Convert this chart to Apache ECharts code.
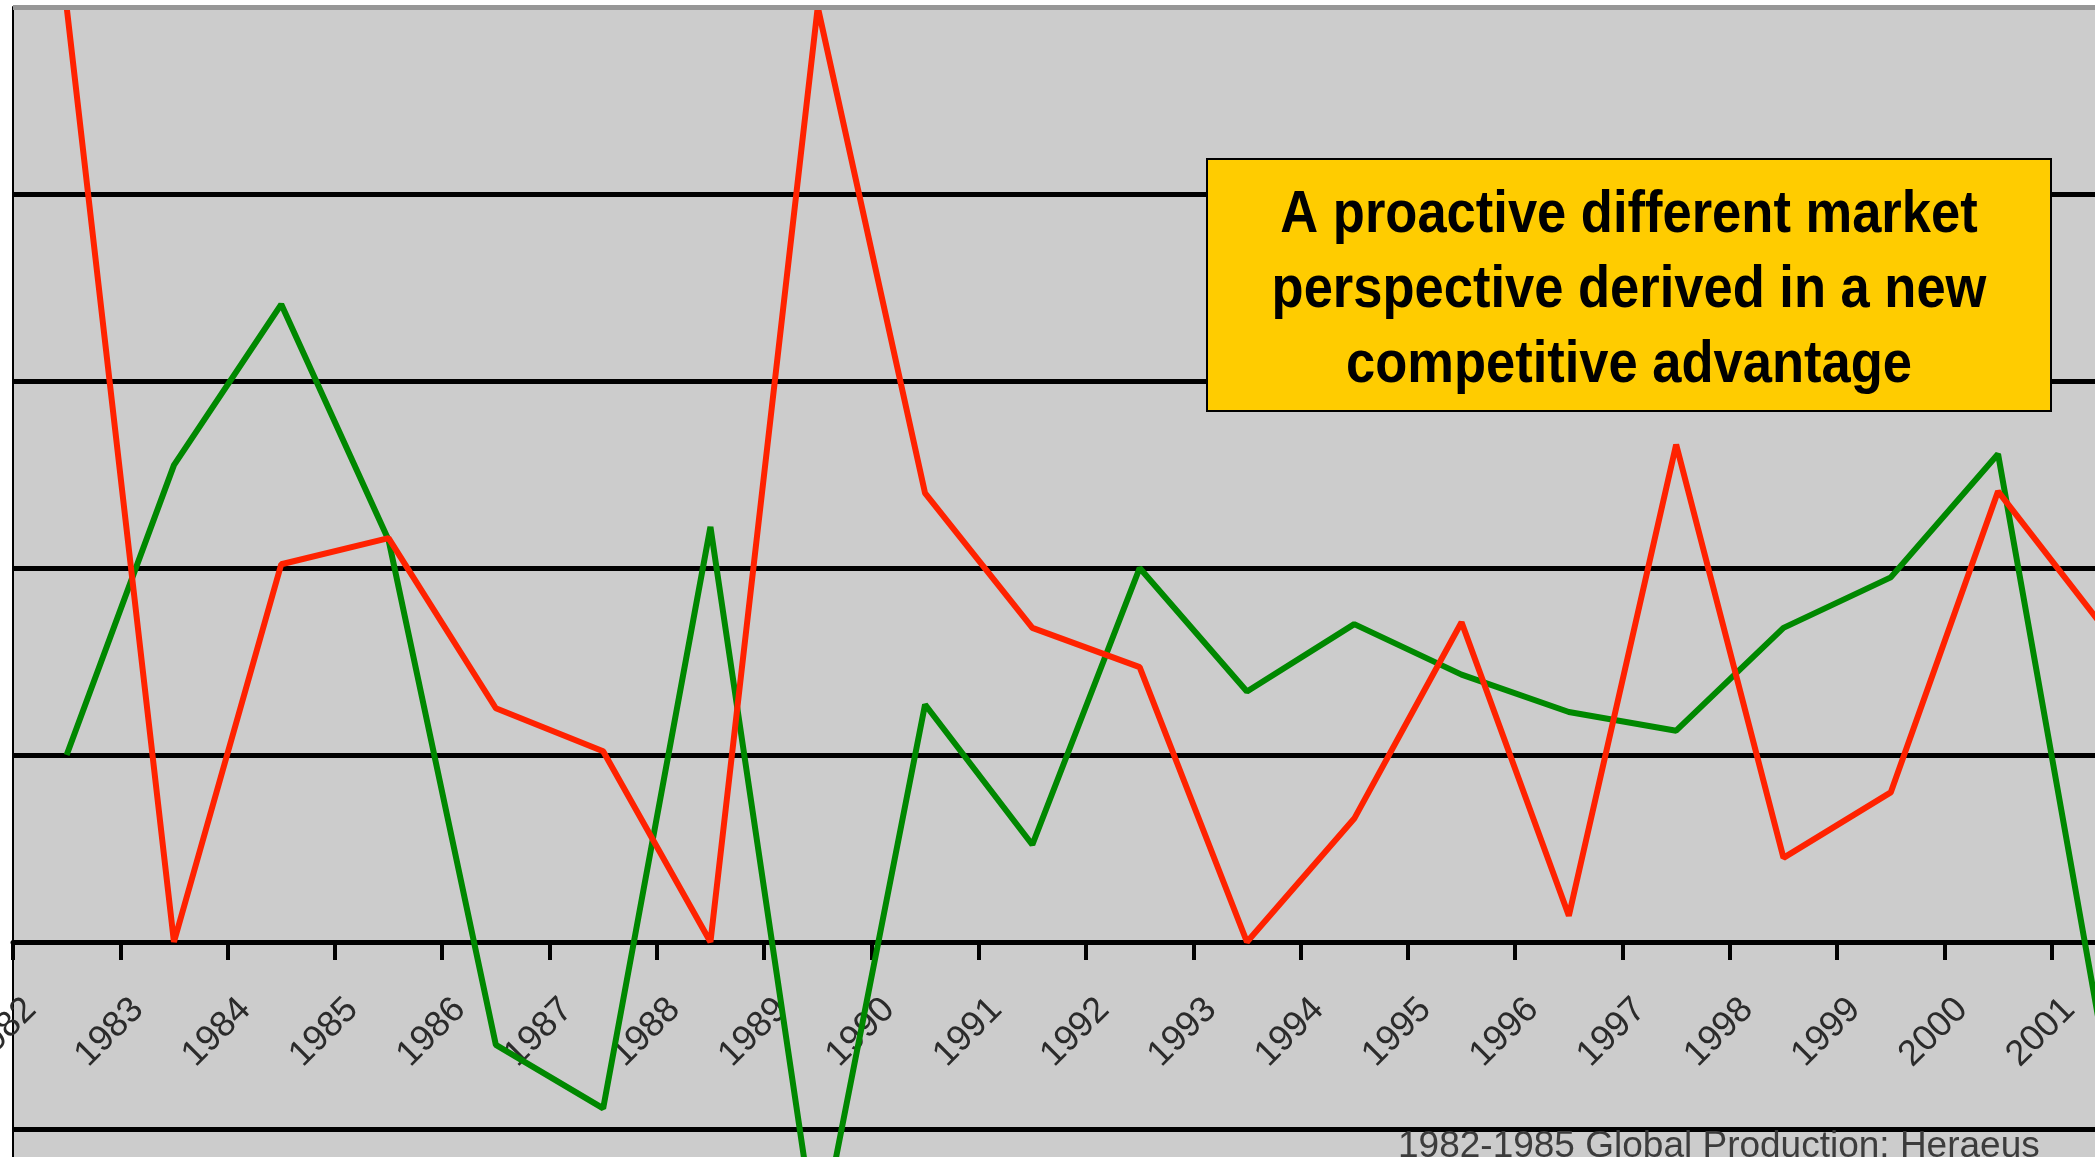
<!DOCTYPE html>
<html>
<head>
<meta charset="utf-8">
<script src="https://cdn.jsdelivr.net/npm/echarts@6/dist/echarts.min.js"></script>
<style>
  html, body { margin: 0; padding: 0; background: #fff; }
  #chart { width: 2095px; height: 1157px; }
</style>
</head>
<body>
<div id="chart"></div>
<script>
// categories (one per year, the axis tick labels)
const years = ['1982', '1983', '1984', '1985', '1986', '1987', '1988', '1989', '1990', '1991',
  '1992', '1993', '1994', '1995', '1996', '1997', '1998', '1999', '2000', '2001'];

// series values, in gridline units (baseline = 0)
const redValues = [5.0, 0, 2.02, 2.16, 1.25, 1.02, 0, 5.0, 2.4, 1.68,
  1.47, 0, 0.66, 1.71, 0.14, 2.66, 0.45, 0.8, 2.41, 1.67];
const greenValues = [1.0, 2.55, 3.41, 2.15, -0.55, -0.89, 2.22, -1.65, 1.27, 0.52,
  2.0, 1.34, 1.7, 1.43, 1.23, 1.13, 1.68, 1.95, 2.61, -0.62];

const noteLines = ['A proactive different market', 'perspective derived in a new', 'competitive advantage'];
const sourceText = '1982-1985 Global Production: Heraeus';

const chart = echarts.init(document.getElementById('chart'));

// y range -2..5, one gridline unit = 187px; the zero line sits 2 units above the grid bottom
chart.setOption({
  backgroundColor: '#ffffff',
  animation: false,
  grid: {
    left: 13,
    top: 7,
    width: 2146,
    height: 1309,
    outerBoundsMode: 'none',
    containLabel: false,
    show: true,
    backgroundColor: '#cccccc',
    borderWidth: 0
  },
  xAxis: {
    type: 'category',
    data: years,
    boundaryGap: true,
    offset: -374,
    axisLine: { onZero: false, lineStyle: { color: '#000', width: 5 } },
    axisTick: { show: true, length: 18, lineStyle: { color: '#000', width: 4 } },
    axisLabel: {
      interval: 0,
      rotate: 45,
      margin: 26,
      padding: [0, 51, 0, 0],
      fontSize: 36,
      fontFamily: 'Liberation Sans',
      color: '#2b2b2b'
    },
    splitLine: { show: false }
  },
  yAxis: {
    type: 'value',
    min: -2,
    max: 5,
    interval: 1,
    axisLine: { show: true, onZero: false, lineStyle: { color: '#000', width: 2 } },
    axisTick: { show: false },
    axisLabel: { show: false },
    splitLine: { show: true, lineStyle: { color: '#000', width: 5 } }
  },
  series: [
    {
      name: 'green',
      type: 'line',
      data: greenValues,
      symbol: 'none',
      lineStyle: { color: '#008800', width: 6 },
      emphasis: { disabled: true },
      markLine: {
        silent: true,
        symbol: ['none', 'none'],
        label: { show: false },
        lineStyle: { color: '#979797', width: 5, type: 'solid' },
        data: [{ yAxis: 5 }]
      }
    },
    {
      name: 'red',
      type: 'line',
      data: redValues,
      symbol: 'none',
      lineStyle: { color: '#ff2200', width: 6 },
      emphasis: { disabled: true }
    }
  ],
  graphic: [
    {
      type: 'rect',
      z: 100,
      shape: { x: 1207, y: 159, width: 844, height: 252 },
      style: { fill: '#ffcc00', stroke: '#000', lineWidth: 2 }
    },
    {
      type: 'text',
      z: 101,
      x: 1629,
      y: 290,
      scaleX: 0.875,
      style: {
        text: noteLines.join('\n'),
        font: 'bold 60px "Liberation Sans"',
        fill: '#000',
        align: 'center',
        textAlign: 'center',
        verticalAlign: 'middle',
        textVerticalAlign: 'middle',
        lineHeight: 75
      }
    },
    {
      type: 'text',
      z: 100,
      x: 1398,
      y: 1147,
      style: {
        text: sourceText,
        font: '37px "Liberation Sans"',
        fill: '#3c3c3c',
        align: 'left',
        textAlign: 'left',
        verticalAlign: 'middle',
        textVerticalAlign: 'middle'
      }
    }
  ]
});
</script>
</body>
</html>
